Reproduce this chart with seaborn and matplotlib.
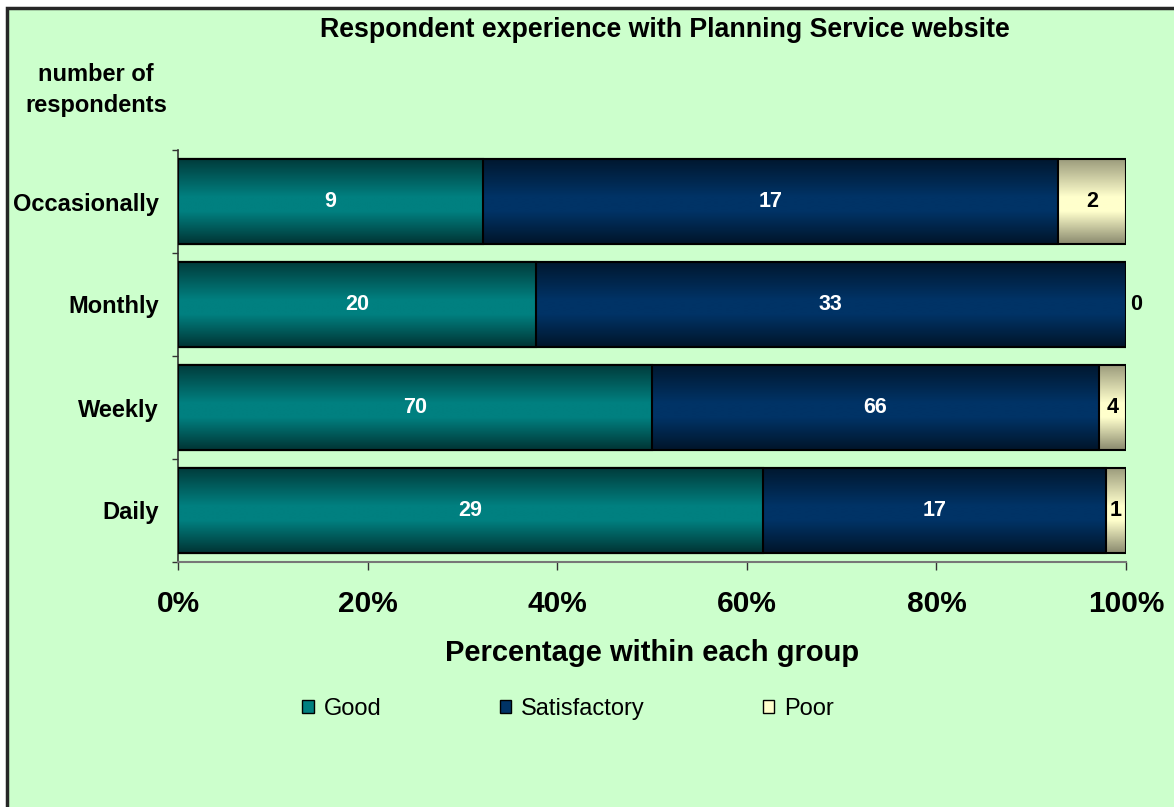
import numpy as np
import pandas as pd
import matplotlib
matplotlib.use("Agg")
import matplotlib.pyplot as plt
import seaborn as sns
from matplotlib.colors import LinearSegmentedColormap, to_rgb
from matplotlib.patches import Rectangle, Patch

# Survey counts per usage frequency
frequency = ["Occasionally", "Monthly", "Weekly", "Daily"]
good = [9, 20, 70, 29]
satisfactory = [17, 33, 66, 17]
poor = [2, 0, 4, 1]
ratings = ["Good", "Satisfactory", "Poor"]
x_ticks = [0, 20, 40, 60, 80, 100]
x_tick_labels = ["0%", "20%", "40%", "60%", "80%", "100%"]

colors = {"Good": "#008080", "Satisfactory": "#003366", "Poor": "#FFFFCC"}
shade = {"Good": 0.45, "Satisfactory": 0.45, "Poor": 0.6}

sns.set_theme(style="white")
plt.rcParams["font.family"] = ["Liberation Sans", "DejaVu Sans"]
plt.rcParams["text.color"] = "black"
plt.rcParams["axes.labelcolor"] = "black"
plt.rcParams["xtick.color"] = "black"
plt.rcParams["ytick.color"] = "black"

df = pd.DataFrame({"Frequency": frequency, "Good": good,
                   "Satisfactory": satisfactory, "Poor": poor})
totals = df[ratings].sum(axis=1)
pct = df[ratings].div(totals, axis=0) * 100
cum = pct.cumsum(axis=1)
cum["Frequency"] = frequency

W, H = 1174, 807
fig = plt.figure(figsize=(W / 100, H / 100), dpi=100, facecolor="white")
fig.patches.append(Rectangle((7 / W, -0.02), 1.05, 1 - 8 / H + 0.02,
                             transform=fig.transFigure, facecolor="#CCFFCC",
                             edgecolor="#262626", linewidth=2.5, zorder=-5))

ax = fig.add_axes([178 / W, 1 - 562 / H, (1126 - 178) / W, (562 - 150) / H])
ax.set_facecolor("none")
ax.set_zorder(1)

# Stacked 100% bars: draw cumulative totals from the widest segment down
for rating in reversed(ratings):
    sns.barplot(data=cum, x=rating, y="Frequency", orient="h",
                color=colors[rating], saturation=1, width=0.83,
                edgecolor="black", linewidth=1.5, errorbar=None, ax=ax)

# Vertical shading on every bar segment
grad = np.linspace(0, 1, 256).reshape(-1, 1)
layer_names = list(reversed(ratings))
for k, container in enumerate(ax.containers):
    name = layer_names[k]
    base = np.array(to_rgb(colors[name]))
    dark = base * shade[name]
    cmap = LinearSegmentedColormap.from_list(
        name, [(0, dark), (0.45, base), (0.62, base), (1, dark * 0.9)])
    for p in container.patches:
        x0, y0 = p.get_x(), p.get_y()
        w, h = p.get_width(), p.get_height()
        if w <= 0:
            continue
        im = ax.imshow(grad, cmap=cmap, aspect="auto", origin="upper",
                       extent=(x0, x0 + w, y0 + h, y0), zorder=2 + 2 * k,
                       interpolation="bilinear")
        im.set_clip_path(p)
        p.set_facecolor("none")
        p.set_zorder(2.5 + 2 * k)

ax.set_xlim(0, 100)
ax.set_ylim(3.5, -0.5)
ax.set_aspect("auto")

# Count labels on each segment
for i in range(len(frequency)):
    left = 0.0
    for rating in ratings:
        v = int(df.loc[i, rating])
        w = pct.loc[i, rating]
        txt_color = "black" if rating == "Poor" else "white"
        if v > 0:
            ax.text(left + w / 2, i, str(v), ha="center", va="center",
                    color=txt_color, fontweight="bold", fontsize=15.5, zorder=20)
        else:
            ax.text(left + 0.4, i, str(v), ha="left", va="center",
                    color="black", fontweight="bold", fontsize=15.5, zorder=20)
        left += w

# Axes styling
for s in ["top", "right"]:
    ax.spines[s].set_visible(False)
ax.spines["left"].set_color("#333333")
ax.spines["left"].set_linewidth(1.2)
ax.spines["bottom"].set_color("#777777")
ax.spines["bottom"].set_linewidth(1.5)

ax.set_yticks(range(len(frequency)))
ax.set_yticklabels(frequency, fontweight="bold", fontsize=17)
ax.set_yticks(np.arange(-0.5, len(frequency), 1), minor=True)
ax.tick_params(axis="y", which="major", left=False, length=0, pad=14)
ax.tick_params(axis="y", which="minor", left=True, length=4.5, width=1,
               color="#333333")
for lbl in ax.get_yticklabels():
    lbl.set_verticalalignment("center_baseline")
ax.set_ylabel("")

ax.set_xticks(x_ticks)
ax.set_xticklabels(x_tick_labels, fontweight="bold", fontsize=21.5)
ax.tick_params(axis="x", which="major", bottom=True, length=6, width=1,
               color="#333333", pad=14)
ax.set_xlabel("Percentage within each group", fontweight="bold",
              fontsize=21, labelpad=15)

fig.text(665 / W, 1 - 30 / H, "Respondent experience with Planning Service website",
         ha="center", va="center", fontweight="bold", fontsize=19.3)
fig.text(96 / W, 1 - 90 / H, "number of\nrespondents", ha="center",
         va="center", fontweight="bold", fontsize=17, linespacing=1.45)

handles = [Patch(facecolor=colors[r], edgecolor="black", linewidth=1)
           for r in ratings]
fig.legend(handles, ratings, loc="center", bbox_to_anchor=(568 / W, 1 - 709 / H),
           ncol=3, frameon=False, fontsize=17, handlelength=0.5,
           handleheight=0.5, handletextpad=0.4, columnspacing=5.0)

fig.savefig("out.png", dpi=100, facecolor=fig.get_facecolor())
